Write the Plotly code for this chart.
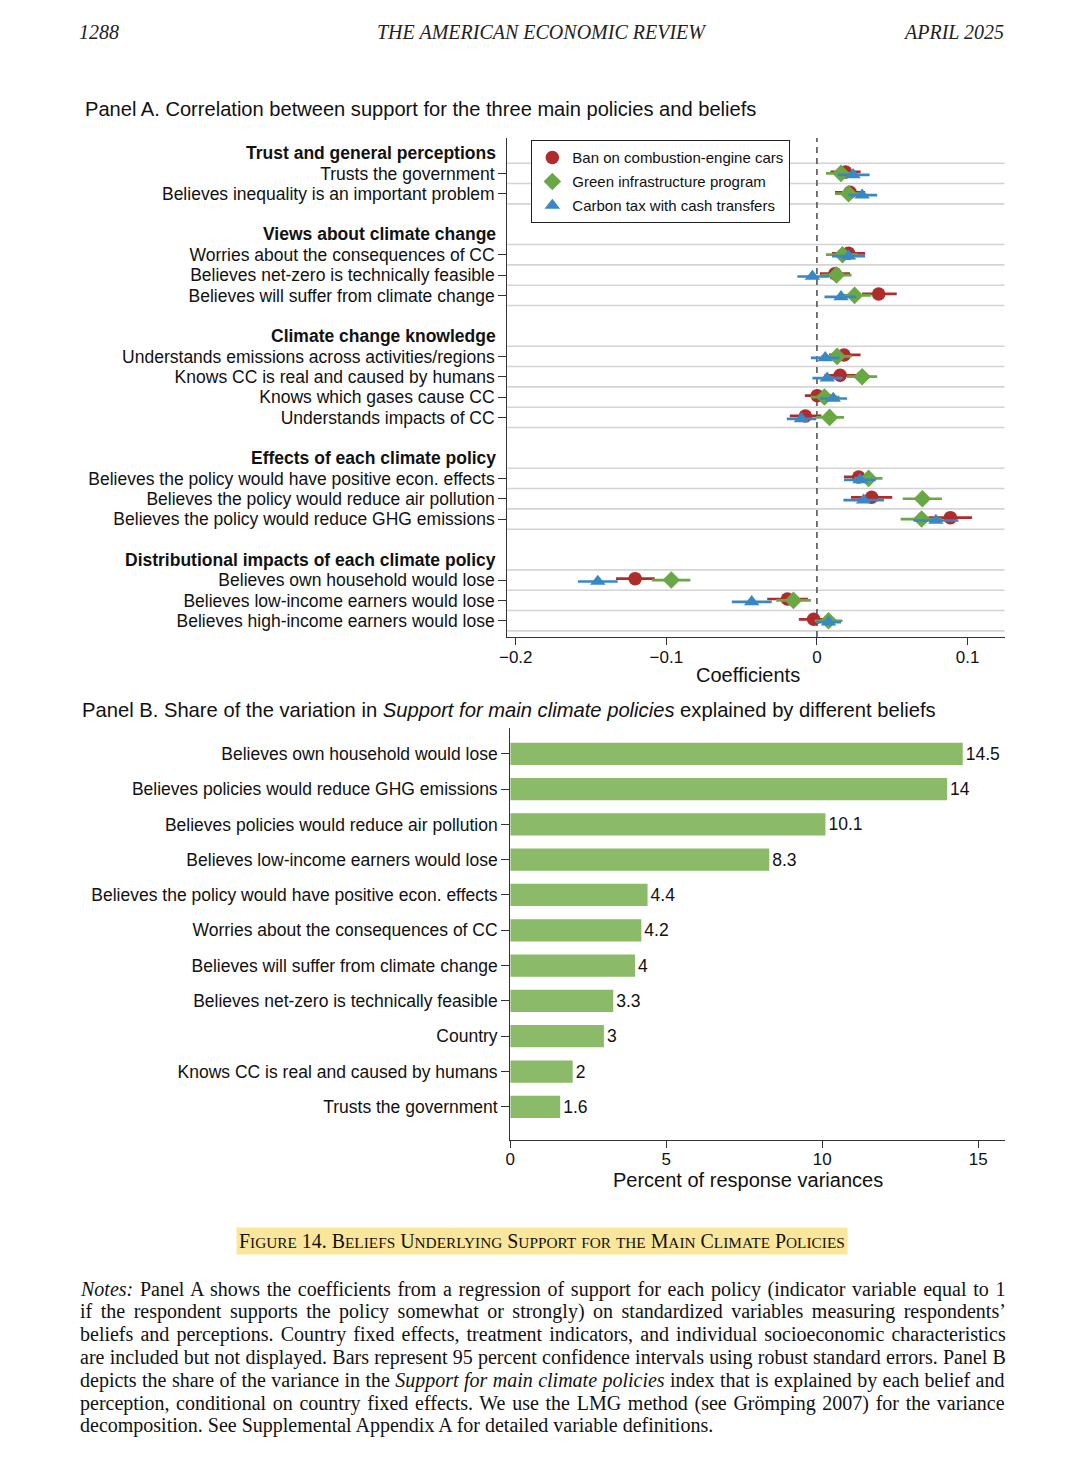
import plotly.graph_objects as go

# ---------------- Panel A data ----------------
group_titles = [
    "Trust and general perceptions",
    "Views about climate change",
    "Climate change knowledge",
    "Effects of each climate policy",
    "Distributional impacts of each climate policy",
]
group_rows = [
    ["Trusts the government",
     "Believes inequality is an important problem"],
    ["Worries about the consequences of CC",
     "Believes net-zero is technically feasible",
     "Believes will suffer from climate change"],
    ["Understands emissions across activities/regions",
     "Knows CC is real and caused by humans",
     "Knows which gases cause CC",
     "Understands impacts of CC"],
    ["Believes the policy would have positive econ. effects",
     "Believes the policy would reduce air pollution",
     "Believes the policy would reduce GHG emissions"],
    ["Believes own household would lose",
     "Believes low-income earners would lose",
     "Believes high-income earners would lose"],
]

series_names = ["Ban on combustion-engine cars",
                "Green infrastructure program",
                "Carbon tax with cash transfers"]

ban_coef = [0.019, 0.022, 0.021, 0.012, 0.041, 0.018, 0.0154, 0.0002, -0.0077,
            0.0277, 0.0363, 0.0886, -0.1207, -0.0196, -0.0022]
ban_lo = [0.009, 0.012, 0.010, 0.002, 0.030, 0.008, 0.005, -0.008, -0.018,
          0.018, 0.0226, 0.074, -0.1334, -0.033, -0.012]
ban_hi = [0.029, 0.032, 0.032, 0.022, 0.053, 0.029, 0.026, 0.0095, 0.003,
          0.037, 0.050, 0.103, -0.1077, -0.006, 0.0073]

green_coef = [0.016, 0.021, 0.017, 0.013, 0.025, 0.0134, 0.030, 0.005, 0.0084,
              0.0343, 0.070, 0.0695, -0.0967, -0.0156, 0.0077]
green_lo = [0.006, 0.012, 0.006, 0.003, 0.014, 0.003, 0.020, -0.004, -0.0005,
            0.025, 0.057, 0.0556, -0.1097, -0.027, -0.0015]
green_hi = [0.026, 0.029, 0.027, 0.023, 0.036, 0.023, 0.040, 0.015, 0.018,
            0.0435, 0.083, 0.083, -0.084, -0.004, 0.017]

tax_coef = [0.024, 0.030, 0.021, -0.003, 0.016, 0.0055, 0.0068, 0.0108, -0.0103,
            0.0286, 0.031, 0.079, -0.1455, -0.0433, 0.0077]
tax_lo = [0.014, 0.021, 0.010, -0.013, 0.005, -0.004, -0.003, 0.002, -0.020,
          0.018, 0.0176, 0.064, -0.1587, -0.0565, -0.0005]
tax_hi = [0.035, 0.040, 0.032, 0.008, 0.026, 0.015, 0.017, 0.020, -0.0004,
          0.039, 0.0446, 0.094, -0.1323, -0.030, 0.016]

xticks_a = [-0.2, -0.1, 0, 0.1]

# ---------------- Panel B data ----------------
bar_labels = [
    "Believes own household would lose",
    "Believes policies would reduce GHG emissions",
    "Believes policies would reduce air pollution",
    "Believes low-income earners would lose",
    "Believes the policy would have positive econ. effects",
    "Worries about the consequences of CC",
    "Believes will suffer from climate change",
    "Believes net-zero is technically feasible",
    "Country",
    "Knows CC is real and caused by humans",
    "Trusts the government",
]
bar_values = [14.5, 14, 10.1, 8.3, 4.4, 4.2, 4, 3.3, 3, 2, 1.6]
xticks_b = [0, 5, 10, 15]

# ---------------- helpers ----------------
OFF = 8  # page body margin in the browser
W, H = 1072, 1450
def px(p):
    return (p - OFF) / W
def py(p):
    return 1 - (p - OFF) / H

LSHIFT = 9  # left-anchored annotation correction

SANS = "Liberation Sans, Arial, Helvetica, sans-serif"
SERIF = "Liberation Serif, Times New Roman, serif"
AXC = "#333333"
TXT = "#111111"

# slot layout for panel A (header, rows, blank gap)
header_slots, row_slots, row_labels = [], [], []
s = 0
for g, rows in zip(group_titles, group_rows):
    header_slots.append(s)
    s += 1
    for r in rows:
        row_slots.append(s)
        row_labels.append(r)
        s += 1
    s += 1  # blank gap

fig = go.Figure()

colors = ["#B02B2B", "#6AA846", "#3987C4"]
symbols = ["circle", "diamond", "triangle-up"]
offsets = [-0.07, 0.0, 0.07]
data_sets = [(ban_coef, ban_lo, ban_hi), (green_coef, green_lo, green_hi),
             (tax_coef, tax_lo, tax_hi)]

for name, col, sym, off, (c, lo, hi) in zip(series_names, colors, symbols, offsets, data_sets):
    fig.add_trace(go.Scatter(
        x=c, y=[v + off for v in row_slots], mode="markers", name=name,
        legendgroup=name,
        marker=dict(symbol=sym, size=13.5, color=col, line=dict(width=0)),
        error_x=dict(type="data", symmetric=False,
                     array=[h - v for h, v in zip(hi, c)],
                     arrayminus=[v - l for v, l in zip(c, lo)],
                     color=col, thickness=2.7, width=0),
        xaxis="x", yaxis="y", cliponaxis=False,
    ))

fig.add_trace(go.Bar(
    x=bar_values, y=bar_labels, orientation="h",
    marker=dict(color="#8BBA68", line=dict(width=0)), width=0.63,
    text=[str(v) for v in bar_values], textposition="outside",
    textfont=dict(family=SANS, size=17.5, color=TXT),
    cliponaxis=False, showlegend=False, xaxis="x2", yaxis="y2",
))

shapes = []
grid_pos = sorted(set([r - 0.5 for r in row_slots] + [r + 0.5 for r in row_slots]))
for gp in grid_pos:
    shapes.append(dict(type="line", xref="x domain", yref="y", x0=0, x1=1, y0=gp, y1=gp,
                       line=dict(color="#D4D4D4", width=1.6), layer="below"))
shapes.append(dict(type="line", xref="x", yref="y domain", x0=0, x1=0, y0=0, y1=1,
                   line=dict(color="#555555", width=1.6, dash="6px,5px"), layer="below"))

annotations = []
for hs, gt in zip(header_slots, group_titles):
    annotations.append(dict(text="<b>" + gt + "</b>", xref="paper", yref="y",
                            x=px(494), y=hs, xanchor="right", yanchor="middle",
                            showarrow=False, font=dict(family=SANS, size=17.5, color=TXT)))

hdr_font = dict(family=SERIF, size=20, color="#222")
annotations += [
    dict(text="<i>1288</i>", x=px(78 - LSHIFT), y=py(32), xanchor="left", yanchor="middle",
         xref="paper", yref="paper", showarrow=False, font=hdr_font),
    dict(text="<i>THE AMERICAN ECONOMIC REVIEW</i>", x=px(538), y=py(32), xanchor="center",
         yanchor="middle", xref="paper", yref="paper", showarrow=False, font=hdr_font),
    dict(text="<i>APRIL 2025</i>", x=px(1005), y=py(32), xanchor="right", yanchor="middle",
         xref="paper", yref="paper", showarrow=False, font=hdr_font),
]

annotations += [
    dict(text="Panel A. Correlation between support for the three main policies and beliefs",
         x=px(84 - LSHIFT), y=py(109), xanchor="left", yanchor="middle", xref="paper", yref="paper",
         showarrow=False, font=dict(family=SANS, size=20.1, color=TXT)),
    dict(text="Panel B. Share of the variation in <i>Support for main climate policies</i> explained by different beliefs",
         x=px(81 - LSHIFT), y=py(710), xanchor="left", yanchor="middle", xref="paper", yref="paper",
         showarrow=False, font=dict(family=SANS, size=20.2, color=TXT)),
    dict(text="Coefficients", x=px(746), y=py(675), xanchor="center", yanchor="middle",
         xref="paper", yref="paper", showarrow=False, font=dict(family=SANS, size=20, color=TXT)),
    dict(text="Percent of response variances", x=px(746), y=py(1180), xanchor="center",
         yanchor="middle", xref="paper", yref="paper", showarrow=False,
         font=dict(family=SANS, size=20, color=TXT)),
]

def smallcaps(txt, small=15.3):
    out = []
    for word in txt.split(" "):
        w = ""
        for ch in word:
            if ch.isupper() or ch.isdigit() or ch == ".":
                w += ch
            else:
                w += '<span style="font-size:%spx">%s</span>' % (small, ch.upper())
        out.append(w)
    return " ".join(out)

annotations.append(dict(
    text=smallcaps("Figure 14. Beliefs Underlying Support for the Main Climate Policies"),
    x=px(538), y=py(1241), xanchor="center", yanchor="middle", xref="paper", yref="paper",
    showarrow=False, font=dict(family=SERIF, size=19.9, color=TXT),
    bgcolor="#FBE79B", borderpad=2))

notes_lines = [
    "<i>Notes:</i> Panel A shows the coefficients from a regression of support for each policy (indicator variable equal to 1",
    "if the respondent supports the policy somewhat or strongly) on standardized variables measuring respondents’",
    "beliefs and perceptions. Country fixed effects, treatment indicators, and individual socioeconomic characteristics",
    "are included but not displayed. Bars represent 95 percent confidence intervals using robust standard errors. Panel B",
    "depicts the share of the variance in the <i>Support for main climate policies</i> index that is explained by each belief and",
    "perception, conditional on country fixed effects. We use the LMG method (see Grömping 2007) for the variance",
    "decomposition. See Supplemental Appendix A for detailed variable definitions.",
]
notes_spacing = [1.7, 3.5, 2.1, 0.25, 0.4, 1.7, 0]  # word spacing to approximate justification
for i, (ln, ws) in enumerate(zip(notes_lines, notes_spacing)):
    txt = '<span style="word-spacing:%spx">%s</span>' % (ws, ln) if ws else ln
    annotations.append(dict(text=txt, x=px(79 - LSHIFT), y=py(1289 + 22.8 * i), xanchor="left",
                            yanchor="middle", xref="paper", yref="paper", showarrow=False,
                            font=dict(family=SERIF, size=20, color=TXT)))

fig.update_layout(
    width=W, height=H, margin=dict(l=0, r=0, t=0, b=0),
    paper_bgcolor="white", plot_bgcolor="white",
    font=dict(family=SANS, color=TXT),
    showlegend=True,
    legend=dict(x=px(527), y=py(140), xanchor="left", yanchor="top",
                bgcolor="white", bordercolor="#222", borderwidth=1.2,
                font=dict(family=SANS, size=15, color=TXT),
                tracegroupgap=1.5, itemclick=False),
    xaxis=dict(domain=[px(503), px(1004)], anchor="y", range=[-0.2056, 0.1246],
               tickvals=xticks_a, showgrid=False, zeroline=False,
               showline=True, linecolor=AXC, linewidth=1.3,
               ticks="outside", ticklen=7, tickcolor=AXC, tickwidth=1.3,
               ticklabelstandoff=-3,
               tickfont=dict(family=SANS, size=17, color=TXT)),
    yaxis=dict(domain=[py(637), py(138)], anchor="x", range=[23.8, -0.74],
               tickvals=row_slots, ticktext=row_labels, showgrid=False, zeroline=False,
               showline=True, linecolor=AXC, linewidth=1.3,
               ticks="outside", ticklen=8, tickcolor=AXC, tickwidth=1.3,
               tickfont=dict(family=SANS, size=17.5, color=TXT)),
    xaxis2=dict(domain=[px(506), px(1004.6)], anchor="y2", range=[0, 15.86],
                tickvals=xticks_b, showgrid=False, zeroline=False,
                showline=True, linecolor=AXC, linewidth=1.3,
                ticks="outside", ticklen=7, tickcolor=AXC, tickwidth=1.3,
                ticklabelstandoff=-4,
                tickfont=dict(family=SANS, size=17, color=TXT)),
    yaxis2=dict(domain=[py(1140), py(728)], anchor="x2", type="category",
                categoryorder="array", categoryarray=bar_labels,
                range=[10.94, -0.73], showgrid=False, zeroline=False,
                showline=True, linecolor=AXC, linewidth=1.3,
                ticks="outside", ticklen=8, tickcolor=AXC, tickwidth=1.3,
                tickfont=dict(family=SANS, size=17.5, color=TXT)),
    shapes=shapes, annotations=annotations,
)

fig.write_html("out.html")
